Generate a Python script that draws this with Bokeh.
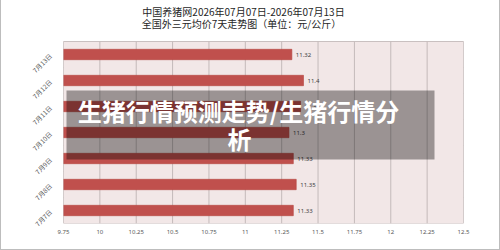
import math
from bokeh.plotting import figure
from bokeh.models import (ColumnDataSource, FixedTicker, Label, BoxAnnotation)
from bokeh.core.properties import value
from bokeh.embed import file_html
from bokeh.resources import INLINE

# ---- data ----
categories = ["7月7日", "7月8日", "7月9日", "7月10日", "7月11日", "7月12日", "7月13日"]
prices = [11.33, 11.35, 11.33, 11.3, 11.38, 11.4, 11.32]
x_ticks = [9.75, 10, 10.25, 10.5, 10.75, 11, 11.25, 11.5, 11.75, 12, 12.25, 12.5]
x_tick_labels = ["9.75", "10", "10.25", "10.5", "10.75", "11", "11.25", "11.5",
                 "11.75", "12", "12.25", "12.5"]
title_line1 = "中国养猪网2026年07月07日-2026年07月13日"
title_line2 = "全国外三元均价7天走势图（单位：元/公斤）"
overlay_line1 = "生猪行情预测走势/生猪行情分"
overlay_line2 = "析"

FONT = "Noto Sans CJK SC"
NUMFONT = "Noto Sans"

n = len(categories)
pos = list(range(n))
src = ColumnDataSource(dict(y=pos, x=prices, lbl=[str(v) for v in prices]))

x_lo, x_hi = x_ticks[0], x_ticks[-1]
y_lo, y_hi = -0.5, n - 0.5
ROW_PX = 26.0          # pixel height of one category row
TOP_PX = 41.0          # space above the plot area for the titles

p = figure(width=500, height=250, output_backend="svg", toolbar_location=None,
           x_range=(x_lo, x_hi), y_range=(y_lo, y_hi + TOP_PX / ROW_PX),
           min_border_left=62, min_border_right=38, min_border_top=0,
           min_border_bottom=27)
p.background_fill_color = "white"
p.border_fill_color = "white"
p.outline_line_color = None
p.styles = {"border-left": "1.5px solid #BDBDBD", "border-right": "1.5px solid #BDBDBD",
            "border-bottom": "1.5px solid #BDBDBD", "box-sizing": "border-box"}

# plot area background
p.quad(left=[x_lo], right=[x_hi], bottom=[y_lo], top=[y_hi],
       fill_color="#F2E7E7", line_color="#C9C0C0", line_width=1)

# grids
p.xgrid.grid_line_color = None
p.segment(x0=x_ticks, y0=[y_lo] * len(x_ticks), x1=x_ticks, y1=[y_hi] * len(x_ticks),
          line_color="#C4BABA", line_width=1)
p.ygrid.ticker = FixedTicker(ticks=[i - 0.5 for i in range(n + 1)])
p.ygrid.grid_line_color = "#C4BABA"

# bars
p.hbar(y="y", right="x", left=x_lo, height=0.4, source=src,
       fill_color="#C0504D", line_color="#B5443F", line_width=0.6)
p.text(x="x", y="y", text="lbl", source=src, x_offset=4,
       text_baseline="middle", text_align="left", text_font_size="6px",
       text_color="#404040", text_font=value(NUMFONT))

# axes
p.xaxis.ticker = FixedTicker(ticks=x_ticks)
p.xaxis.major_label_overrides = {t: l for t, l in zip(x_ticks, x_tick_labels)}
p.xaxis.axis_line_color = None
p.xaxis.major_tick_line_color = None
p.xaxis.minor_tick_line_color = None
p.xaxis.major_label_standoff = 0
p.xaxis.major_label_text_font_size = "6px"
p.xaxis.major_label_text_color = "#595959"
p.xaxis.major_label_text_font = NUMFONT

p.yaxis.ticker = FixedTicker(ticks=pos)
p.yaxis.major_label_overrides = {i: c for i, c in zip(pos, categories)}
p.yaxis.major_label_orientation = math.pi / 4
p.yaxis.axis_line_color = None
p.yaxis.major_tick_line_color = None
p.yaxis.minor_tick_line_color = None
p.yaxis.major_label_standoff = 7
p.yaxis.major_label_text_font_size = "6.5px"
p.yaxis.major_label_text_color = "#595959"
p.yaxis.major_label_text_font = FONT

# titles (screen units: x from frame left, y from frame bottom)
p.add_layout(Label(x=180, y=212, x_units="screen", y_units="screen", text=title_line1,
                   text_align="center", text_baseline="middle", text_font_size="10px",
                   text_color="#262626", text_font=FONT))
p.add_layout(Label(x=178, y=200, x_units="screen", y_units="screen", text=title_line2,
                   text_align="center", text_baseline="middle", text_font_size="10px",
                   text_color="#262626", text_font=FONT))

# overlay banner
p.add_layout(BoxAnnotation(left=3, right=371, top=133, bottom=64,
                           left_units="screen", right_units="screen",
                           top_units="screen", bottom_units="screen",
                           fill_color="black", fill_alpha=0.36, line_color=None))
p.add_layout(Label(x=175, y=113, x_units="screen", y_units="screen", text=overlay_line1,
                   text_align="center", text_baseline="middle", text_font_size="24px",
                   text_font_style="bold", text_color="white", text_font=FONT))
p.add_layout(Label(x=176, y=85, x_units="screen", y_units="screen", text=overlay_line2,
                   text_align="center", text_baseline="middle", text_font_size="24px",
                   text_font_style="bold", text_color="white", text_font=FONT))

open("out.html", "w").write(file_html(p, INLINE))
